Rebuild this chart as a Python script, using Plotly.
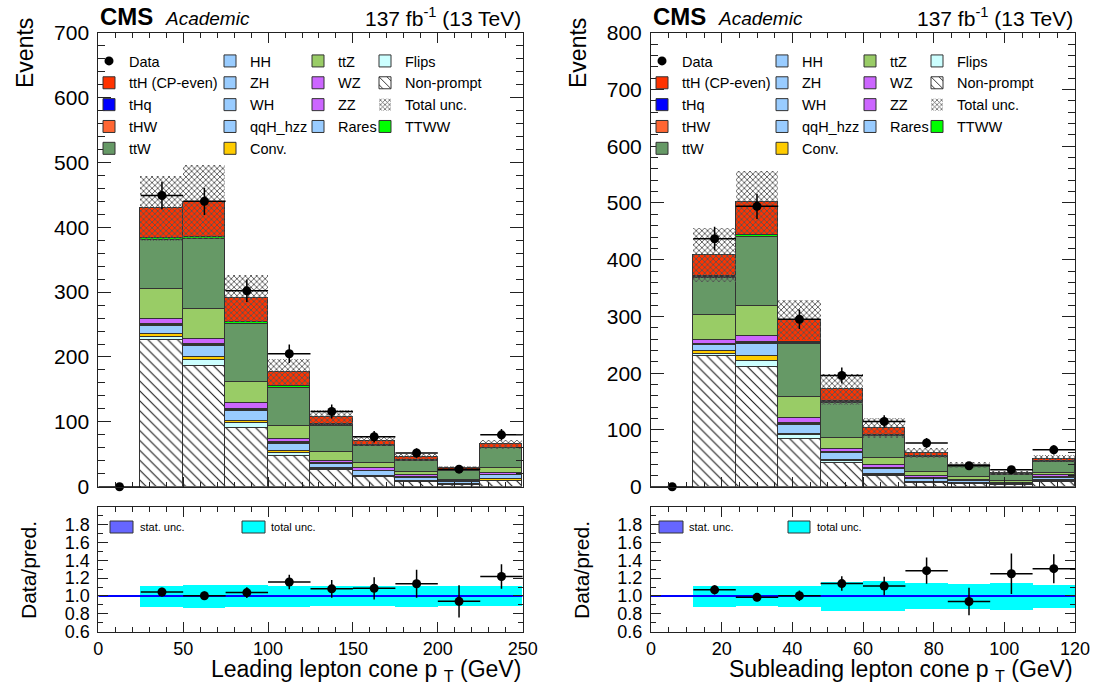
import numpy as np
import plotly.graph_objects as go

W, H = 1093, 686
FONT = "Liberation Sans, Arial, Helvetica, sans-serif"

# ---------------- Leading lepton cone pT (25 GeV bins) ----------------
lead_edges = [0, 25, 50, 75, 100, 125, 150, 175, 200, 225, 250]
lead_data = [0, 449, 440, 302, 205, 116, 77, 52, 27, 80]
# simulated / estimated processes, bins 25-250 GeV
lead_nonprompt = [226.6, 187.1, 90.4, 47.8, 26.2, 14.9, 8.2, 3.5, 9.0]
lead_flips = [5.2, 8.7, 7.7, 4.0, 1.5, 1.0, 0.6, 0.5, 1.0]
lead_conv = [4.6, 4.2, 3.4, 3.5, 1.5, 1.0, 0.8, 0.8, 1.8]
lead_rares = [11.6, 16.9, 15.4, 11.6, 6.6, 7.1, 4.6, 2.2, 6.3]
lead_qqh_hzz = [0.2, 0.2, 0.2, 0.1, 0.1, 0.1, 0.05, 0.05, 0.05]
lead_wh = [1.0, 1.2, 1.0, 0.8, 0.4, 0.3, 0.2, 0.1, 0.2]
lead_zh = [0.5, 0.6, 0.5, 0.4, 0.2, 0.2, 0.1, 0.1, 0.1]
lead_hh = [0.05, 0.05, 0.05, 0.05, 0.03, 0.03, 0.02, 0.02, 0.02]
lead_zz = [1.4, 1.3, 1.6, 0.7, 0.5, 0.6, 0.5, 0.2, 0.5]
lead_wz = [8.3, 8.0, 9.7, 4.4, 3.1, 3.6, 3.4, 1.3, 3.0]
lead_ttz = [46.3, 46.2, 31.4, 20.6, 14.4, 7.7, 5.1, 2.0, 6.8]
lead_ttw = [75.0, 108.0, 89.9, 59.1, 40.1, 26.7, 16.5, 14.4, 30.8]
lead_ttww = [2.5, 2.5, 2.5, 2.0, 1.5, 1.0, 0.8, 0.5, 1.0]
lead_thw = [0.4, 0.4, 0.3, 0.3, 0.2, 0.1, 0.1, 0.05, 0.1]
lead_thq = [0.8, 0.8, 0.6, 0.5, 0.3, 0.2, 0.15, 0.1, 0.2]
lead_tth = [45.5, 52.8, 36.2, 21.4, 10.8, 6.4, 4.6, 2.9, 4.8]
lead_rel_unc = [0.117, 0.13, 0.125, 0.115, 0.11, 0.11, 0.12, 0.11, 0.11]

# ---------------- Subleading lepton cone pT (12 GeV bins) ----------------
sub_edges = [0, 12, 24, 36, 48, 60, 72, 84, 96, 108, 120]
sub_data = [0, 437, 494, 295, 196, 115, 77, 37, 30, 65]
# simulated / estimated processes, bins 12-120 GeV
sub_nonprompt = [231.4, 212.0, 84.0, 41.7, 19.4, 6.5, 5.0, 3.0, 8.5]
sub_flips = [3.0, 9.4, 7.0, 3.5, 2.0, 1.0, 0.7, 0.5, 1.3]
sub_conv = [5.8, 9.4, 3.0, 2.0, 2.0, 1.9, 1.1, 0.8, 2.5]
sub_rares = [9.6, 20.4, 15.3, 12.0, 8.7, 5.4, 3.1, 1.7, 4.4]
sub_qqh_hzz = [0.2, 0.2, 0.2, 0.1, 0.1, 0.05, 0.05, 0.05, 0.05]
sub_wh = [0.9, 1.2, 1.0, 0.8, 0.5, 0.3, 0.2, 0.1, 0.2]
sub_zh = [0.5, 0.6, 0.5, 0.4, 0.2, 0.1, 0.1, 0.1, 0.1]
sub_hh = [0.05, 0.05, 0.05, 0.05, 0.03, 0.02, 0.02, 0.02, 0.02]
sub_zz = [1.1, 2.0, 1.5, 1.0, 0.9, 0.6, 0.3, 0.2, 0.6]
sub_wz = [6.5, 11.4, 8.5, 5.5, 5.0, 3.5, 1.7, 1.0, 3.4]
sub_ttz = [43.5, 52.3, 37.0, 18.8, 11.7, 7.6, 5.9, 3.0, 2.9]
sub_ttw = [65.2, 121.1, 94.0, 62.8, 39.4, 26.4, 18.8, 11.5, 20.6]
sub_ttww = [2.5, 3.5, 2.5, 1.5, 1.2, 0.8, 0.5, 0.4, 0.8]
sub_thw = [0.4, 0.4, 0.3, 0.3, 0.2, 0.1, 0.1, 0.05, 0.1]
sub_thq = [0.8, 0.8, 0.6, 0.5, 0.3, 0.2, 0.15, 0.1, 0.2]
sub_tth = [37.4, 56.9, 38.9, 21.1, 11.8, 5.5, 1.7, 1.5, 4.1]
sub_rel_unc = [0.115, 0.11, 0.12, 0.16, 0.17, 0.145, 0.14, 0.15, 0.13]

# process style: fill colour, hatch, legend column, position in column
STYLE = {
    "Non-prompt":     dict(color="white", hatch="\\", col=3, rank=1),
    "Flips":          dict(color="#CCFFFF", hatch="", col=3, rank=0),
    "Conv.":          dict(color="#FFCC00", hatch="", col=1, rank=4),
    "Rares":          dict(color="#99CCFF", hatch="", col=2, rank=3),
    "qqH_hzz":        dict(color="#99CCFF", hatch="", col=1, rank=3),
    "WH":             dict(color="#99CCFF", hatch="", col=1, rank=2),
    "ZH":             dict(color="#99CCFF", hatch="", col=1, rank=1),
    "HH":             dict(color="#99CCFF", hatch="", col=1, rank=0),
    "ZZ":             dict(color="#CC66FF", hatch="", col=2, rank=2),
    "WZ":             dict(color="#CC66FF", hatch="", col=2, rank=1),
    "ttZ":            dict(color="#99CC66", hatch="", col=2, rank=0),
    "ttW":            dict(color="#669966", hatch="", col=0, rank=4),
    "TTWW":           dict(color="#00FF00", hatch="", col=3, rank=3),
    "tHW":            dict(color="#FF6633", hatch="", col=0, rank=3),
    "tHq":            dict(color="#0000FF", hatch="", col=0, rank=2),
    "ttH (CP-even)":  dict(color="#FF3300", hatch="", col=0, rank=1),
}

lead_stack = [
    ("Non-prompt", lead_nonprompt), ("Flips", lead_flips), ("Conv.", lead_conv),
    ("Rares", lead_rares), ("qqH_hzz", lead_qqh_hzz), ("WH", lead_wh),
    ("ZH", lead_zh), ("HH", lead_hh), ("ZZ", lead_zz), ("WZ", lead_wz),
    ("ttZ", lead_ttz), ("ttW", lead_ttw), ("TTWW", lead_ttww),
    ("tHW", lead_thw), ("tHq", lead_thq), ("ttH (CP-even)", lead_tth),
]
sub_stack = [
    ("Non-prompt", sub_nonprompt), ("Flips", sub_flips), ("Conv.", sub_conv),
    ("Rares", sub_rares), ("qqH_hzz", sub_qqh_hzz), ("WH", sub_wh),
    ("ZH", sub_zh), ("HH", sub_hh), ("ZZ", sub_zz), ("WZ", sub_wz),
    ("ttZ", sub_ttz), ("ttW", sub_ttw), ("TTWW", sub_ttww),
    ("tHW", sub_thw), ("tHq", sub_thq), ("ttH (CP-even)", sub_tth),
]


def px_x(p):
    return p / W


def px_y(p):
    return 1 - p / H


fig = go.Figure()


def add_panel(main_x, main_y, ratio_x, ratio_y, edges, data, stack, rel_unc, legends):
    edges = np.array(edges, dtype=float)
    centers = 0.5 * (edges[:-1] + edges[1:])
    widths = edges[1:] - edges[:-1]
    mc_x, mc_w = centers[1:], widths[1:]
    data = np.array(data, dtype=float)
    pred = np.sum([np.array(v) for _, v in stack], axis=0)
    rel = np.array(rel_unc)

    for name, vals in stack:
        st = STYLE[name]
        marker = dict(color=st["color"], line=dict(color="#333333", width=1))
        if st["hatch"]:
            marker["pattern"] = dict(shape=st["hatch"], fgcolor="#111111", bgcolor="white",
                                     size=7, solidity=0.15)
        fig.add_trace(go.Bar(
            x=mc_x, y=vals, width=mc_w, name=name, marker=marker,
            xaxis=main_x, yaxis=main_y, legend=legends[st["col"]],
            legendrank=st["rank"] + 1,
        ))

    # total uncertainty band around the prediction
    fig.add_trace(go.Bar(
        x=mc_x, y=2 * pred * rel, base=pred * (1 - rel), width=mc_w,
        name="Total unc.", xaxis=main_x, yaxis=main_y,
        marker=dict(color="rgba(0,0,0,0)", line=dict(width=0),
                    pattern=dict(shape="x", fgcolor="#555555", size=4, solidity=0.4)),
        legend=legends[3], legendrank=3,
    ))

    # observed data
    fig.add_trace(go.Scatter(
        x=centers, y=data, mode="markers", name="Data",
        marker=dict(color="black", size=9),
        error_y=dict(type="data", array=np.sqrt(data), color="black", thickness=1.5, width=0),
        error_x=dict(type="data", array=widths / 2, color="black", thickness=1.5, width=0),
        xaxis=main_x, yaxis=main_y, cliponaxis=False,
        legend=legends[0], legendrank=0,
    ))

    # ratio panel
    fig.add_trace(go.Bar(
        x=mc_x, y=2 * rel, base=1 - rel, width=mc_w, showlegend=False,
        marker=dict(color="#00FFFF", line=dict(width=0)),
        xaxis=ratio_x, yaxis=ratio_y,
    ))
    fig.add_trace(go.Scatter(
        x=[edges[0], edges[-1]], y=[1, 1], mode="lines", showlegend=False,
        line=dict(color="#0000FF", width=2), xaxis=ratio_x, yaxis=ratio_y,
    ))
    fig.add_trace(go.Scatter(
        x=mc_x, y=data[1:] / pred, mode="markers", showlegend=False,
        marker=dict(color="black", size=9),
        error_y=dict(type="data", array=np.sqrt(data[1:]) / pred, color="black", thickness=1.5, width=0),
        error_x=dict(type="data", array=mc_w / 2, color="black", thickness=1.5, width=0),
        xaxis=ratio_x, yaxis=ratio_y, cliponaxis=False,
    ))


add_panel("x", "y", "x2", "y2", lead_edges, lead_data, lead_stack, lead_rel_unc,
          ["legend", "legend2", "legend3", "legend4"])
add_panel("x3", "y3", "x4", "y4", sub_edges, sub_data, sub_stack, sub_rel_unc,
          ["legend5", "legend6", "legend7", "legend8"])

# frame geometry (pixels)
L_X0, L_X1 = 98.3, 522.7
R_X0, R_X1 = 651.0, 1075.0
M_Y0, M_Y1 = 32.7, 486.7
R_Y0, R_Y1 = 506.7, 631.7

axis_common = dict(showline=True, linecolor="#222222", linewidth=1, mirror="allticks",
                   ticks="inside", tickcolor="#222222", tickwidth=1, showgrid=False,
                   zeroline=False, automargin=False,
                   tickfont=dict(family=FONT, size=21, color="black"))


def xaxis_cfg(x0, x1, anchor, rng, dtick, minor, labels):
    cfg = dict(axis_common)
    cfg.update(domain=[px_x(x0), px_x(x1)], anchor=anchor, range=rng, dtick=dtick, tick0=0,
               ticklen=10, showticklabels=labels,
               minor=dict(ticks="inside", dtick=minor, tick0=0, ticklen=5, tickcolor="#222222"))
    if labels:
        cfg["tickfont"] = dict(family=FONT, size=18, color="black")
        cfg["ticklabelstandoff"] = 1
    return cfg


def main_y_cfg(anchor, rng):
    cfg = dict(axis_common)
    cfg.update(domain=[px_y(M_Y1), px_y(M_Y0)], anchor=anchor, range=rng, dtick=100, tick0=0,
               ticklen=13, ticklabelstandoff=4,
               minor=dict(ticks="inside", dtick=20, tick0=0, ticklen=7, tickcolor="#222222"))
    return cfg


def ratio_y_cfg(anchor):
    cfg = dict(axis_common)
    cfg.update(domain=[px_y(R_Y1), px_y(R_Y0)], anchor=anchor, range=[0.6, 2.0],
               tickmode="array", tickvals=[0.6, 0.8, 1.0, 1.2, 1.4, 1.6, 1.8],
               ticktext=["0.6", "0.8", "1.0", "1.2", "1.4", "1.6", "1.8"],
               ticklen=10, ticklabelstandoff=4,
               tickfont=dict(family=FONT, size=18, color="black"),
               minor=dict(ticks="inside", tickmode="linear", tick0=0.6, dtick=0.1,
                          ticklen=5, tickcolor="#222222"))
    return cfg


legend_base = dict(xanchor="left", yanchor="top", bgcolor="rgba(0,0,0,0)", borderwidth=0,
                   font=dict(family=FONT, size=14.5, color="black"), traceorder="normal",
                   itemclick=False, itemdoubleclick=False)
legend_top = px_y(45)
left_cols = [89, 210, 298, 365]
right_cols = [642, 762, 850, 917]
legend_layout = {}
for i, xp in enumerate(left_cols + right_cols):
    key = "legend" if i == 0 else f"legend{i + 1}"
    legend_layout[key] = dict(legend_base, x=px_x(xp), y=legend_top)

annotations = []


def text(xp, yp, s, size, xanchor="left", yanchor="middle", angle=0):
    annotations.append(dict(x=px_x(xp), y=px_y(yp), xref="paper", yref="paper", text=s,
                            showarrow=False, xanchor=xanchor, yanchor=yanchor, textangle=angle,
                            font=dict(family=FONT, size=size, color="black")))


for x0, x1 in [(L_X0, L_X1), (R_X0, R_X1)]:
    text(x0, 17, "<b>CMS</b>", 24)
    text(x0 + 65, 18, "<i>Academic</i>", 19)
    text(x1, 17, "137 fb<sup>-1</sup> (13 TeV)", 21, xanchor="right")
text(25, 53, "Events", 23, xanchor="center", angle=-90)
text(578, 53, "Events", 23, xanchor="center", angle=-90)
text(28, 570, "Data/pred.", 21, xanchor="center", angle=-90)
text(581, 570, "Data/pred.", 21, xanchor="center", angle=-90)
text(L_X1, 670, "Leading lepton cone p <sub>T</sub> (GeV)", 23, xanchor="right")
text(R_X1, 670, "Subleading lepton cone p <sub>T</sub> (GeV)", 23, xanchor="right")

# ratio-panel keys
shapes = []
for (bx, tx) in [((110, 133), 138), ((659, 683), 687)]:
    shapes.append(dict(type="rect", xref="paper", yref="paper", x0=px_x(bx[0]), x1=px_x(bx[1]),
                       y0=px_y(533), y1=px_y(521), fillcolor="#6666FF",
                       line=dict(color="#333333", width=1)))
    text(tx, 527, "stat. unc.", 11)
for (bx, tx) in [((242, 265), 269), ((788, 810), 815)]:
    shapes.append(dict(type="rect", xref="paper", yref="paper", x0=px_x(bx[0]), x1=px_x(bx[1]),
                       y0=px_y(533), y1=px_y(521), fillcolor="#00FFFF",
                       line=dict(color="#333333", width=1)))
    text(tx, 527, "total unc.", 11)

fig.update_layout(
    template="none",
    width=W, height=H, margin=dict(l=0, r=0, t=0, b=0, autoexpand=False),
    paper_bgcolor="white", plot_bgcolor="white",
    barmode="stack", bargap=0,
    font=dict(family=FONT, color="black"),
    xaxis=xaxis_cfg(L_X0, L_X1, "y", [0, 250], 50, 10, False),
    yaxis=main_y_cfg("x", [0, 700]),
    xaxis2=xaxis_cfg(L_X0, L_X1, "y2", [0, 250], 50, 10, True),
    yaxis2=ratio_y_cfg("x2"),
    xaxis3=xaxis_cfg(R_X0, R_X1, "y3", [0, 120], 20, 5, False),
    yaxis3=main_y_cfg("x3", [0, 800]),
    xaxis4=xaxis_cfg(R_X0, R_X1, "y4", [0, 120], 20, 5, True),
    yaxis4=ratio_y_cfg("x4"),
    annotations=annotations,
    shapes=shapes,
    **legend_layout,
)

fig.write_html("out.html")
